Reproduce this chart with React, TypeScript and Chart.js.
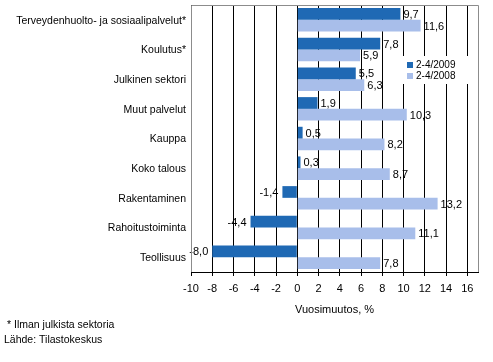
import React, { useEffect, useRef } from "react";
import { Chart, registerables } from "chart.js";

Chart.register(...registerables);

const categories = [
  "Terveydenhuolto- ja sosiaalipalvelut*",
  "Koulutus*",
  "Julkinen sektori",
  "Muut palvelut",
  "Kauppa",
  "Koko talous",
  "Rakentaminen",
  "Rahoitustoiminta",
  "Teollisuus",
];
const series2009 = [9.7, 7.8, 5.5, 1.9, 0.5, 0.3, -1.4, -4.4, -8.0];
const series2008 = [11.6, 5.9, 6.3, 10.3, 8.2, 8.7, 13.2, 11.1, 7.8];
const seriesNames = ["2-4/2009", "2-4/2008"];
const seriesColors = ["#1F69B4", "#A8BEEA"];
const axisTitle = "Vuosimuutos, %";
const footnotes = ["* Ilman julkista sektoria", "Lähde: Tilastokeskus"];

const FONT = '"Liberation Sans", Arial, sans-serif';
const fmt = (v: number) => v.toFixed(1).replace(".", ",");

const extrasPlugin = {
  id: "extras",
  afterDatasetsDraw(chart: any) {
    const ctx = chart.ctx;
    ctx.save();
    ctx.font = `11px ${FONT}`;
    ctx.fillStyle = "#000";
    ctx.textBaseline = "middle";
    chart.data.datasets.forEach((ds: any, di: number) => {
      const meta = chart.getDatasetMeta(di);
      meta.data.forEach((el: any, i: number) => {
        const v = ds.data[i];
        const txt = fmt(v);
        if (v >= 0) {
          ctx.textAlign = "left";
          ctx.fillText(txt, el.x + 3, el.y + 1);
        } else {
          ctx.textAlign = "right";
          ctx.fillText(txt, el.x - 4, el.y + 1);
        }
      });
    });
    ctx.restore();
  },
  afterDraw(chart: any) {
    const ctx = chart.ctx;
    const area = chart.chartArea;
    ctx.save();
    ctx.strokeStyle = "#8C8C8C";
    ctx.lineWidth = 1;
    const l = Math.round(area.left) + 0.5;
    const r = Math.round(area.right) + 0.5;
    const t = Math.round(area.top) + 0.5;
    const b = Math.round(area.bottom);
    ctx.beginPath();
    ctx.moveTo(l, b);
    ctx.lineTo(l, t);
    ctx.lineTo(r, t);
    ctx.lineTo(r, b);
    ctx.stroke();

    const lx = 400, ly = 56, lw = 76, lh = 28;
    ctx.fillStyle = "#fff";
    ctx.fillRect(lx, ly, lw, lh);
    ctx.font = `10px ${FONT}`;
    ctx.textBaseline = "middle";
    ctx.textAlign = "left";
    seriesNames.forEach((name, i) => {
      const cy = 65 + i * 11;
      ctx.fillStyle = seriesColors[i];
      ctx.fillRect(407, cy - 3, 6, 6);
      ctx.fillStyle = "#000";
      ctx.fillText(name, 416, cy);
    });

    ctx.font = `11px ${FONT}`;
    ctx.textAlign = "center";
    ctx.fillText(axisTitle, (area.left + area.right) / 2, 310);

    ctx.font = `10.5px ${FONT}`;
    ctx.textAlign = "left";
    ctx.fillText(footnotes[0], 7, 325);
    ctx.fillText(footnotes[1], 4, 340);
    ctx.restore();
  },
};

export default function App() {
  const ref = useRef<HTMLCanvasElement | null>(null);
  useEffect(() => {
    document.body.style.margin = "0";
    if (!ref.current) return;
    const chart = new Chart(ref.current, {
      type: "bar",
      data: {
        labels: categories,
        datasets: [
          {
            label: seriesNames[0],
            data: series2009,
            backgroundColor: seriesColors[0],
            borderWidth: 0,
            categoryPercentage: 0.79,
            barPercentage: 1.0,
          },
          {
            label: seriesNames[1],
            data: series2008,
            backgroundColor: seriesColors[1],
            borderWidth: 0,
            categoryPercentage: 0.79,
            barPercentage: 1.0,
          },
        ],
      },
      options: {
        indexAxis: "y",
        responsive: true,
        maintainAspectRatio: false,
        animation: false,
        layout: { padding: { top: 5, right: 15, left: 0, bottom: 0 } },
        plugins: {
          legend: { display: false },
          tooltip: { enabled: false },
        },
        scales: {
          x: {
            type: "linear",
            min: -10,
            max: 17,
            afterFit: (scale: any) => {
              scale.height = 90;
              scale.paddingLeft = 0;
              scale.paddingRight = 0;
            },
            ticks: {
              stepSize: 2,
              includeBounds: false,
              color: "#000",
              font: { family: FONT, size: 11 },
              padding: 6,
              callback: (v: any) => String(v),
            },
            grid: {
              display: true,
              drawOnChartArea: true,
              color: "#000000",
              tickColor: "#000000",
              tickLength: 4,
              lineWidth: 1,
            },
            border: { display: true, color: "#000000", width: 1 },
          },
          y: {
            type: "category",
            afterFit: (scale: any) => {
              scale.width = 191;
              scale.paddingTop = 0;
              scale.paddingBottom = 0;
            },
            ticks: {
              color: "#000",
              font: { family: FONT, size: 10.5 },
              padding: 5,
              labelOffset: 1,
            },
            grid: { display: false, drawTicks: false },
            border: { display: false },
          },
        },
      },
      plugins: [extrasPlugin],
    } as any);
    return () => chart.destroy();
  }, []);
  return (
    <div style={{ position: "relative", width: 493, height: 362, background: "#fff" }}>
      <canvas ref={ref} />
    </div>
  );
}
